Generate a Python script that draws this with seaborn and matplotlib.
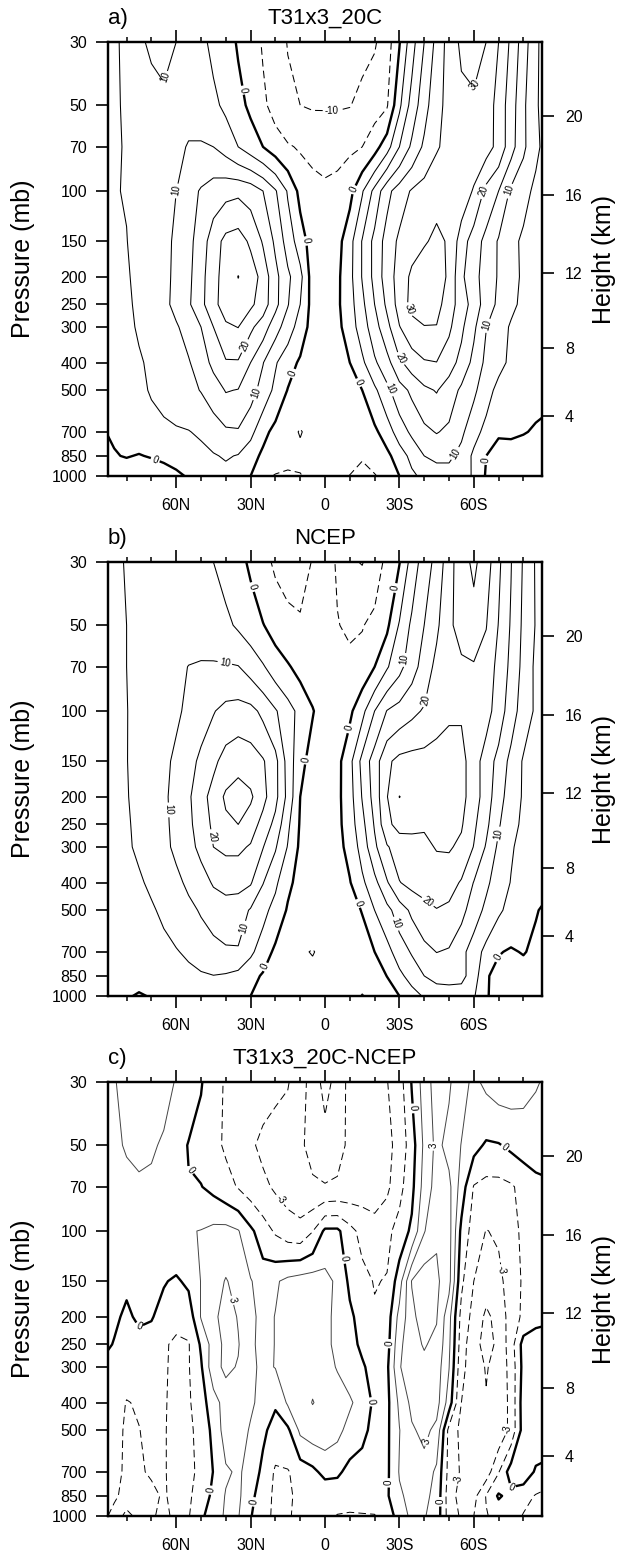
import numpy as np
import matplotlib
matplotlib.use("Agg")
import matplotlib.pyplot as plt
import seaborn as sns

# ---------------------------------------------------------------------------
# Grid: latitude (90N -> 90S, every 5 deg) and pressure levels (mb)
LATS = np.arange(90, -91, -5)
PLEVS = [1000, 850, 700, 500, 400, 300, 250, 200, 150, 100, 70, 50, 30]

# T31x3_20C zonal-mean zonal wind (m/s), one list per level, 90N -> 90S
t31_1000 = [0.8, -0.8, -2, -2.5, -2.5, -2, -1, 0.5, 1.5, 2.5, 3.5, 2.5, 0, -4, -5.3, -5.7, -5.2, -4, -2.5, -3.5, -5.1, -5.6, -5.3, -3.5, 0, 4, 6.3, 8, 8, 6.8, 4.5, -0.5, -2, -2.5, -3, -3, -3]
t31_850 = [-0.5, -0.2, 0.2, -0.2, 0.3, 1, 2, 3, 3.5, 4.6, 5.5, 4.7, 2, -1, -2.5, -3.5, -4, -3.5, -3, -3, -3.5, -4.8, -3, -1.2, 2.5, 6.5, 10, 11, 11, 8.5, 4, 0, -1.5, -2, -2.5, -3, -3]
t31_700 = [-0.2, 0.4, 1.5, 2, 3, 4, 4.5, 4.8, 5.8, 7.5, 9.2, 9.5, 6.5, 1.5, -1.5, -3.5, -5.3, -3.5, -2.8, -3.5, -3.5, -2.5, -1, 2.5, 7.5, 11, 13.8, 15.3, 14, 11, 6.8, 3.5, 0.5, 0.8, 0.3, -0.5, -1]
t31_500 = [1.5, 2, 2.5, 3.8, 5.5, 6.5, 7.5, 8.8, 10.2, 12.5, 15.3, 14.8, 12, 8, 3.8, -0.2, -1.8, -2.5, -2.5, -2.2, -1.5, 0, 4, 8.7, 13, 16, 19, 20.3, 17.8, 14, 11, 7, 3.5, 2.5, 2, 1.5, 1]
t31_400 = [2, 2.5, 3.2, 4.5, 5.8, 7, 8.3, 9.6, 12.5, 16.3, 19.5, 19.5, 15, 10.2, 5.5, 2, -0.7, -1.5, -2, -1.3, 0, 4, 9.2, 13.3, 19, 22.5, 24.5, 24.9, 22, 18.5, 13.5, 8.8, 6.5, 4, 2.8, 2, 1.5]
t31_300 = [2.3, 3, 4, 5.5, 7, 8.3, 9.5, 11.8, 15, 20, 24.3, 25.1, 21, 17.5, 12, 7.5, 2.8, -2, -2, -1.3, 2.5, 7.5, 13, 18.5, 24.8, 28.3, 29.8, 29.8, 26, 21, 16, 10.1, 7, 4.5, 3, 2.5, 2]
t31_250 = [2.5, 3.3, 4.3, 5.8, 7.3, 8.8, 11.3, 14.3, 18.5, 23.8, 27, 28, 26, 22.5, 16.5, 10.3, 5, -2, -2.5, -0.8, 3, 8.8, 15, 21, 27, 31.5, 32.5, 31.7, 27.5, 22.5, 18, 12.5, 9, 6, 4, 3, 2.5]
t31_200 = [3, 3.8, 4.6, 6, 7.5, 9, 10.8, 13.8, 18.5, 23, 27.5, 30.1, 28, 23, 16.5, 11, 6.5, -2.5, -3, -1, 3.5, 10.3, 16.5, 22.5, 27, 31, 33, 33, 29, 21, 16.5, 13, 9.5, 6.7, 4.2, 3, 2.5]
t31_150 = [3.5, 4.3, 4.9, 6.5, 7.8, 9, 10.6, 13.5, 17.5, 22.5, 26.5, 27.5, 24, 19.5, 14, 7.8, 2.5, -2.5, -3.5, -1.8, 3.2, 10.3, 16.5, 22, 26, 28, 29.5, 31, 29.5, 22.5, 17.5, 13.5, 9.5, 6.3, 4.2, 3.3, 3]
t31_100 = [4, 4.8, 5.2, 7, 8.2, 9.3, 10, 13, 15.5, 17.5, 18.5, 19, 18, 15, 10.5, 4.5, -1.5, -4, -4.5, -4, -1.5, 4.5, 11.5, 18.5, 22.5, 25.5, 27, 28.5, 28.5, 28, 24.5, 18.5, 15, 9, 6.5, 4, 3]
t31_70 = [3.5, 4.5, 5.3, 6, 7, 8, 9, 10.3, 10.5, 10, 8, 5, 2.5, 0, -2.5, -4.5, -5.5, -5.8, -6, -6, -5.8, -5, -2, 3, 10, 16, 21, 24.5, 26.5, 27.5, 28, 27, 23.5, 17, 11, 6, 3]
t31_50 = [3, 4.5, 5.5, 6.5, 7.5, 8.5, 9, 8.5, 7.5, 6, 4, 1.5, -1, -4, -7, -9, -10, -10.5, -10.5, -10.5, -10.2, -8.5, -7, -5.5, 4, 12, 18, 23.5, 26.5, 28.5, 29, 28, 23, 17.5, 11, 5.5, 3]
t31_30 = [2, 4, 6.5, 9, 11, 12, 10, 8.5, 6, 4, 2, -0.5, -2.5, -5.5, -8, -10.2, -12, -13, -13.5, -13, -12.5, -11.5, -10.5, -7.5, -0.3, 8, 15, 21.5, 27, 31, 32, 30, 25, 19, 12.5, 6, 2]

# NCEP reanalysis zonal-mean zonal wind (m/s)
ncep_1000 = [0.5, 0.5, 0.3, -0.3, 0.2, 0.5, 1, 1.5, 2.3, 3, 2.8, 1.8, 0, -3, -4.5, -4.8, -4.5, -3.5, -3, -3, -4.3, -5.1, -4.5, -2.5, 0, 3, 5.5, 7.5, 8, 7.5, 5.5, 0.5, -2, -3, -3, -3, -3]
ncep_850 = [1, 1, 1, 1.2, 1.5, 2, 3, 3.8, 4.5, 4.9, 4.5, 3.5, 1.5, -0.5, -3, -4, -4.5, -4, -3.5, -3, -3.5, -4.2, -2.5, 0.1, 3.8, 7, 10, 11.5, 11.5, 11.5, 7.5, 0.5, -1.5, -2.5, -2, -2.5, -3]
ncep_700 = [1.2, 1.5, 1.8, 2.3, 3, 3.8, 4.7, 5.8, 7, 8.3, 9.3, 9.5, 6, 2.5, -1, -3, -4.5, -5.2, -4, -3.5, -3, -2, 0, 3.3, 7.5, 10.5, 13.5, 15.1, 14.5, 11.5, 7.5, 3.5, 0.3, -0.5, 0.3, -1, -2]
ncep_500 = [2, 2.5, 3, 3.7, 4.5, 5.8, 7.3, 8.7, 10.5, 12.2, 13, 12.5, 9.5, 6.5, 3.2, -0.5, -2, -2.5, -2.5, -2.2, -1.5, 0.2, 5, 8.5, 12.5, 16, 18.5, 19.8, 19, 16.5, 12.5, 8.8, 5.8, 3.5, 2, 0.3, -1]
ncep_400 = [2.5, 3, 3.6, 4.5, 5.7, 7, 8.8, 11, 13, 15.5, 16.5, 16.5, 15.5, 10.2, 6, 1, -1.5, -2, -2.5, -1.8, -0.3, 4, 8.5, 14.5, 19.8, 21.5, 22, 22.5, 22, 19.5, 14.8, 11, 7.5, 4.8, 3, 1.5, 1]
ncep_300 = [3, 3.7, 4.5, 5.6, 7, 8.8, 11, 13.5, 16.2, 20, 21, 21, 19.5, 15.2, 10.5, 4.7, -1, -2, -2.5, -1.5, 1.5, 7, 14, 19.5, 22.5, 23.5, 24, 25.3, 25.5, 24, 19.8, 14.5, 9, 5.5, 3.5, 2.5, 2]
ncep_250 = [3.2, 4, 4.6, 5.8, 7.2, 9, 11.3, 14, 17.2, 21, 24, 25, 22.5, 18.2, 13.5, 6, -0.5, -2.5, -2.8, -1.3, 2.5, 8.5, 15.5, 24, 26.5, 26, 25.5, 26, 26.5, 25.5, 21, 16.2, 10.5, 6.7, 4, 2.8, 2.2]
ncep_200 = [3.5, 4.2, 4.8, 6, 7.5, 9.2, 11.5, 14.3, 18, 22, 25.8, 27, 25.8, 21.5, 16.5, 8.5, 0, -2.5, -3, -1.2, 3, 10.3, 17, 24.8, 30.1, 28.5, 28, 28, 28, 26.5, 22.5, 17.5, 12, 7.5, 4.5, 3, 2.5]
ncep_150 = [3.8, 4.4, 4.9, 6.2, 7.5, 8.8, 11, 13.3, 16, 18.8, 22, 23.5, 22.5, 20.5, 16.5, 8, 1.5, -2, -2.5, -1.5, 3.5, 11.5, 17.5, 24, 26.5, 27, 27, 27.5, 28, 26.5, 22.5, 17.5, 13.5, 8.5, 4.5, 3.2, 2.8]
ncep_100 = [4.2, 4.6, 4.9, 6, 7.2, 8.2, 9.2, 11, 13, 14.7, 16.5, 17, 16.5, 13.8, 10.5, 7, 3.5, 0.3, -2.5, -2, -1, 3.5, 10, 15.2, 17, 18.8, 20.5, 22.5, 24, 24.5, 24, 22, 17.5, 12.5, 7.5, 4.3, 3]
ncep_70 = [4.5, 4.8, 5, 5.8, 6.8, 7.8, 9, 10.1, 10.5, 10.6, 10.5, 10.2, 8, 5.5, 2.5, 0.5, -1.5, -2.5, -3, -3.5, -3.8, -3, 0, 4.5, 8.5, 13, 17, 21.5, 22.5, 24, 24.5, 23, 18.5, 13.8, 8.5, 4, 3.5]
ncep_50 = [4.5, 4.8, 5, 5.8, 6.5, 7.2, 7.8, 8, 7.6, 7, 6, 4.3, 2.5, 0.2, -2, -3.5, -4.5, -4.5, -4.5, -4.8, -5.8, -5.3, -3.5, -1, 5.5, 11, 15, 19, 24, 27, 28, 25.2, 19.8, 14.5, 9, 4.7, 3.5]
ncep_30 = [4, 4.7, 5.1, 6, 7, 7.8, 8, 7.5, 6.3, 5, 3.5, 1.5, -0.8, -3.5, -5.8, -7, -6.5, -4.8, -3, -5.5, -9.5, -10.2, -8, -3.5, -0.2, 7, 12.5, 16.5, 23, 28, 31, 27.5, 21, 15.2, 9.5, 4.5, 3.5]

# Model minus NCEP difference (m/s)
diff_1000 = [-1.3, -1.7, -1.4, -1.6, -1.6, -1.3, -1.7, -1.6, -0.3, 0.8, 1.7, 1.6, 0.1, -1.0, -1.8, -1.7, -1.0, -1.0, -1.2, -1.55, -1.6, -1.55, -1.55, -1.0, 0.8, 1.8, 1.6, 0.9, -2.2, -3.2, -3.0, -1.6, -1.0, -0.8, -1.6, -1.8, -2.0]
diff_850 = [-1.2, -1.4, -1.7, -1.8, -1.7, -1.4, -1.8, -1.6, -1.2, 0.5, 1.6, 1.8, 0.4, -0.8, -1.8, -1.7, -1.2, -1.3, -1.2, -1.0, -1.1, -1.2, -1.0, -0.2, 1.3, 1.9, 1.9, 1.0, -2.3, -3.6, -3.5, -1.4, 0.2, -0.5, -1.0, -1.6, -2.0]
diff_700 = [-0.8, -1.0, -1.8, -1.6, -1.4, -1.4, -1.9, -1.8, -1.2, 0.05, 1.3, 1.7, 1.0, -0.4, -1.7, -1.6, -0.9, -0.4, 0.5, 0.3, -0.5, -0.8, -0.9, -0.3, 1.6, 2.5, 2.4, 1.2, -2.0, -3.2, -4.0, -3.8, -1.6, 0.8, 1.0, -0.2, -0.5]
diff_500 = [-0.5, -0.8, -1.8, -1.55, -1.0, -1.4, -1.9, -1.8, -1.0, 0.4, 2.2, 2.4, 1.3, 0.3, -0.6, -0.3, 1.8, 2.3, 2.3, 1.9, 1.0, 0.5, -0.6, -0.3, 1.45, 2.8, 3.4, 2.6, -2.0, -3.4, -4.0, -4.4, -4.0, -2.6, 0.7, 1.0, 1.0]
diff_400 = [-0.3, -0.5, -1.6, -1.3, -0.9, -1.4, -1.8, -1.7, -0.6, 0.8, 2.2, 2.6, 1.8, 0.9, 0.2, 1.7, 2.4, 3.05, 2.6, 2.2, 1.7, 0.9, -0.3, -0.4, 1.8, 3.4, 3.8, 3.6, 0.8, -3.0, -4.0, -4.4, -4.0, -2.6, 0.8, 1.1, 1.1]
diff_300 = [-0.3, -0.4, -0.5, -0.6, -0.8, -1.4, -1.7, -1.6, -0.2, 2.5, 3.3, 2.9, 1.8, 1.2, 1.55, 2.4, 2.8, 2.6, 2.0, 1.4, 0.8, 0.2, -0.6, -0.3, 2.9, 3.8, 4.2, 3.8, 1.55, -2.6, -3.8, -4.6, -4.0, -2.5, 0.5, 1.0, 1.0]
diff_250 = [0.5, -0.1, -0.5, -0.6, -0.6, -1.3, -1.8, -1.6, 0.2, 2.2, 3.4, 3.1, 1.8, 1.0, 1.55, 2.5, 2.8, 2.5, 1.9, 1.1, 0.5, -0.3, -0.8, -0.6, 2.6, 4.1, 4.6, 4.2, 1.8, -2.3, -4.0, -5.0, -4.2, -2.2, 0.6, 0.8, 0.8]
diff_200 = [0.5, 0.3, -0.3, 0.3, 0.1, -0.5, -1.0, -0.9, 1.6, 2.6, 3.7, 2.9, 1.9, 1.0, 1.55, 2.4, 2.7, 2.6, 2.0, 1.0, 0.3, -0.6, -1.3, -0.8, 2.0, 4.0, 5.5, 4.6, 2.0, -2.0, -3.5, -4.8, -4.0, -2.3, -1.2, -0.5, -0.3]
diff_150 = [0.5, 0.4, 0.3, 0.3, 0.2, 0.1, -0.2, 0.3, 1.55, 2.3, 3.1, 2.5, 1.6, 0.8, 1.3, 1.9, 2.2, 2.3, 2.0, 1.2, -0.3, -1.0, -1.6, -1.4, 0.8, 4.6, 5.5, 4.8, 3.5, -1.2, -3.0, -3.8, -3.4, -2.3, -1.3, -0.9, -0.8]
diff_100 = [0.5, 0.5, 0.6, 0.7, 0.8, 1.0, 1.2, 1.4, 1.55, 1.9, 2.0, 1.6, 0.3, -0.8, -1.7, -2.3, -2.5, -1.55, 0.3, 0.3, -1.0, -2.0, -2.6, -1.9, -0.9, 0.3, 2.9, 4.3, 3.6, -0.4, -2.2, -3.05, -2.8, -2.0, -1.2, -0.9, -0.8]
diff_70 = [0.7, 0.9, 1.2, 1.3, 1.2, 0.9, 0.5, 0.1, 0.05, -0.4, -1.0, -1.6, -2.2, -2.7, -3.2, -3.6, -4.0, -4.3, -4.4, -4.3, -4.0, -3.7, -3.5, -3.3, -2.0, -0.4, 2.1, 3.6, 3.4, 0.8, -1.6, -2.0, -2.0, -1.7, -1.0, -0.5, -0.3]
diff_50 = [1.0, 1.3, 1.6, 1.8, 1.7, 1.3, 0.8, -0.1, -0.5, -1.1, -1.7, -2.2, -2.8, -3.3, -3.6, -3.9, -4.3, -4.9, -5.4, -5.0, -4.2, -3.6, -3.3, -3.4, -2.5, -0.7, 1.8, 3.4, 2.5, 1.45, 0.5, -0.2, -0.1, 0.3, 0.6, 0.8, 0.9]
diff_30 = [1.0, 1.4, 2.0, 2.3, 2.5, 2.0, 1.4, 1.0, 0.1, -0.8, -1.7, -2.0, -2.2, -2.5, -2.7, -2.9, -3.8, -5.2, -6.5, -5.5, -4.0, -3.4, -3.2, -3.05, -2.2, 0.1, 2.2, 3.7, 3.2, 2.0, 1.2, 1.8, 2.2, 2.2, 2.0, 1.6, 1.3]

# Height axis (km) and axis tick text
HEIGHT_KM = [4, 8, 12, 16, 20]
LAT_TICKS = [60, 30, 0, -30, -60]
LAT_LABELS = ["60N", "30N", "0", "30S", "60S"]

model = np.array([t31_1000, t31_850, t31_700, t31_500, t31_400, t31_300, t31_250,
                  t31_200, t31_150, t31_100, t31_70, t31_50, t31_30])
ncep = np.array([ncep_1000, ncep_850, ncep_700, ncep_500, ncep_400, ncep_300, ncep_250,
                 ncep_200, ncep_150, ncep_100, ncep_70, ncep_50, ncep_30])
diff = np.array([diff_1000, diff_850, diff_700, diff_500, diff_400, diff_300, diff_250,
                 diff_200, diff_150, diff_100, diff_70, diff_50, diff_30])


def std_atm_pressure(z_km):
    """US standard atmosphere pressure (mb) at height z_km."""
    z = z_km * 1000.0
    if z <= 11000:
        return 1013.25 * (1 - 0.0065 * z / 288.15) ** 5.25588
    return 226.32 * np.exp(-9.80665 * (z - 11000) / (287.053 * 216.65))


HEIGHT_P = [std_atm_pressure(z) for z in HEIGHT_KM]

# ---------------------------------------------------------------------------
sns.set_theme(style="ticks")
plt.rcParams.update({
    "font.family": ["Liberation Sans", "DejaVu Sans"],
    "lines.scale_dashes": False,
    "axes.edgecolor": "black",
    "axes.linewidth": 1.6,
    "xtick.color": "black",
    "ytick.color": "black",
    "text.color": "black",
})

DASH = (0, (5.5, 3.0))

fig = plt.figure(figsize=(6.32, 15.52), dpi=100)
W = 632.0
H = 1552.0
panel_tops = [42, 562, 1082]


def style_axes(ax):
    ax.set_yscale("log")
    ax.set_xlim(87.5, -87.5)
    ax.set_ylim(1000, 30)
    ax.set_yticks(PLEVS, labels=[str(p) for p in PLEVS])
    ax.set_yticks([], minor=True)
    ax.set_xticks(LAT_TICKS, labels=LAT_LABELS)
    ax.set_xticks(np.arange(-80, 81, 10), minor=True)
    ax.tick_params(axis="x", which="both", top=True, bottom=True, labeltop=False,
                   direction="out")
    ax.tick_params(which="major", length=8.6, width=1.2, labelsize=11.5)
    ax.tick_params(which="minor", length=3.6, width=1.1)
    ax.tick_params(axis="x", which="major", pad=7.5)
    ax.tick_params(axis="y", which="major", pad=6.5)
    for s in ax.spines.values():
        s.set_linewidth(1.6)
        s.set_visible(True)

    ax2 = ax.twinx()
    ax2.set_yscale("log")
    ax2.set_ylim(1000, 30)
    ax2.set_yticks(HEIGHT_P, labels=[str(h) for h in HEIGHT_KM])
    ax2.set_yticks([], minor=True)
    ax2.tick_params(axis="y", which="major", length=8.6, width=1.2, labelsize=11.5,
                    pad=8, direction="out")
    for s in ax2.spines.values():
        s.set_linewidth(1.6)
    return ax2


def contour_set(ax, field, levels, thin, pos_color):
    styles = [DASH if v < 0 else "solid" for v in levels]
    widths = [1.7 if v == 0 else thin for v in levels]
    colors = [pos_color if v > 0 else "black" for v in levels]
    return ax.contour(LATS, PLEVS, field, levels=levels, colors=colors,
                      linewidths=widths, linestyles=styles)


def draw_panel(idx, field, levels, lab_levels, lab_pos, tag, title, thin=0.75,
               pos_color="black"):
    top = panel_tops[idx]
    ax = fig.add_axes([108 / W, 1 - (top + 434) / H, 434 / W, 434 / H])
    plain = [v for v in levels if v not in lab_levels]
    labelled = [v for v in levels if v in lab_levels]
    contour_set(ax, field, plain, thin, pos_color)
    cs = contour_set(ax, field, labelled, thin, pos_color)
    style_axes(ax)
    ax.clabel(cs, manual=lab_pos, fmt="%d", fontsize=7, inline=True, inline_spacing=2,
              colors="black")
    ax.set_title(title, fontsize=16, y=1.0, pad=13)
    ax.annotate(tag, xy=(0, 1), xycoords="axes fraction", xytext=(0, 13),
                textcoords="offset points", ha="left", va="baseline", fontsize=16)
    cy = 1 - (top + 217) / H
    fig.text(23 / W, cy, "Pressure (mb)", rotation=90, ha="center", va="center",
             fontsize=18)
    fig.text(604 / W, cy, "Height (km)", rotation=90, ha="center", va="center",
             fontsize=18)
    return ax


lev_ab = [-20, -15, -10, -5, 0, 5, 10, 15, 20, 25, 30, 35]
lev_c = [-7.5, -6, -4.5, -3, -1.5, 0, 1.5, 3, 4.5, 6]
lab_a = [(60, 41), (32, 44), (-2.7, 49), (-62, 43), (60, 99), (7.4, 149), (-12.8, 100),
         (-62.4, 99), (-73.8, 99), (31.5, 352), (27.5, 513), (12.8, 436), (68.5, 879),
         (-34.9, 258), (-31.5, 381), (-25.5, 499), (-12.8, 473), (-65, 295),
         (-53.7, 844), (-65, 879)]
lab_b = [(30.9, 37), (40.3, 67), (-29.5, 37), (-32.2, 66), (-40.3, 91.5), (-10, 115),
         (63, 222), (46.3, 276), (34.2, 571), (24.2, 789), (-13.4, 473), (-28.9, 556),
         (-43, 448), (-69, 269), (-69, 728), (9.4, 147)]
lab_c = [(57.3, 64), (16.8, 76), (-35.6, 37), (-43.6, 50), (-71.8, 52), (-8, 125),
         (-66.4, 139), (76.5, 220), (37.6, 175), (46.3, 810), (28.9, 891), (-26.8, 248),
         (-18.1, 397), (-25.5, 764), (-41.6, 549), (-55.7, 748), (-49, 891),
         (-74.5, 497), (-75.8, 844)]

draw_panel(0, model, lev_ab, [-10, 0, 10, 20, 30], lab_a, "a)", "T31x3_20C")
draw_panel(1, ncep, lev_ab, [-10, 0, 10, 20, 30], lab_b, "b)", "NCEP")
draw_panel(2, diff, lev_c, [-3, 0, 3], lab_c, "c)", "T31x3_20C-NCEP", thin=0.7,
           pos_color="#444444")

fig.savefig("out.png", dpi=100)
